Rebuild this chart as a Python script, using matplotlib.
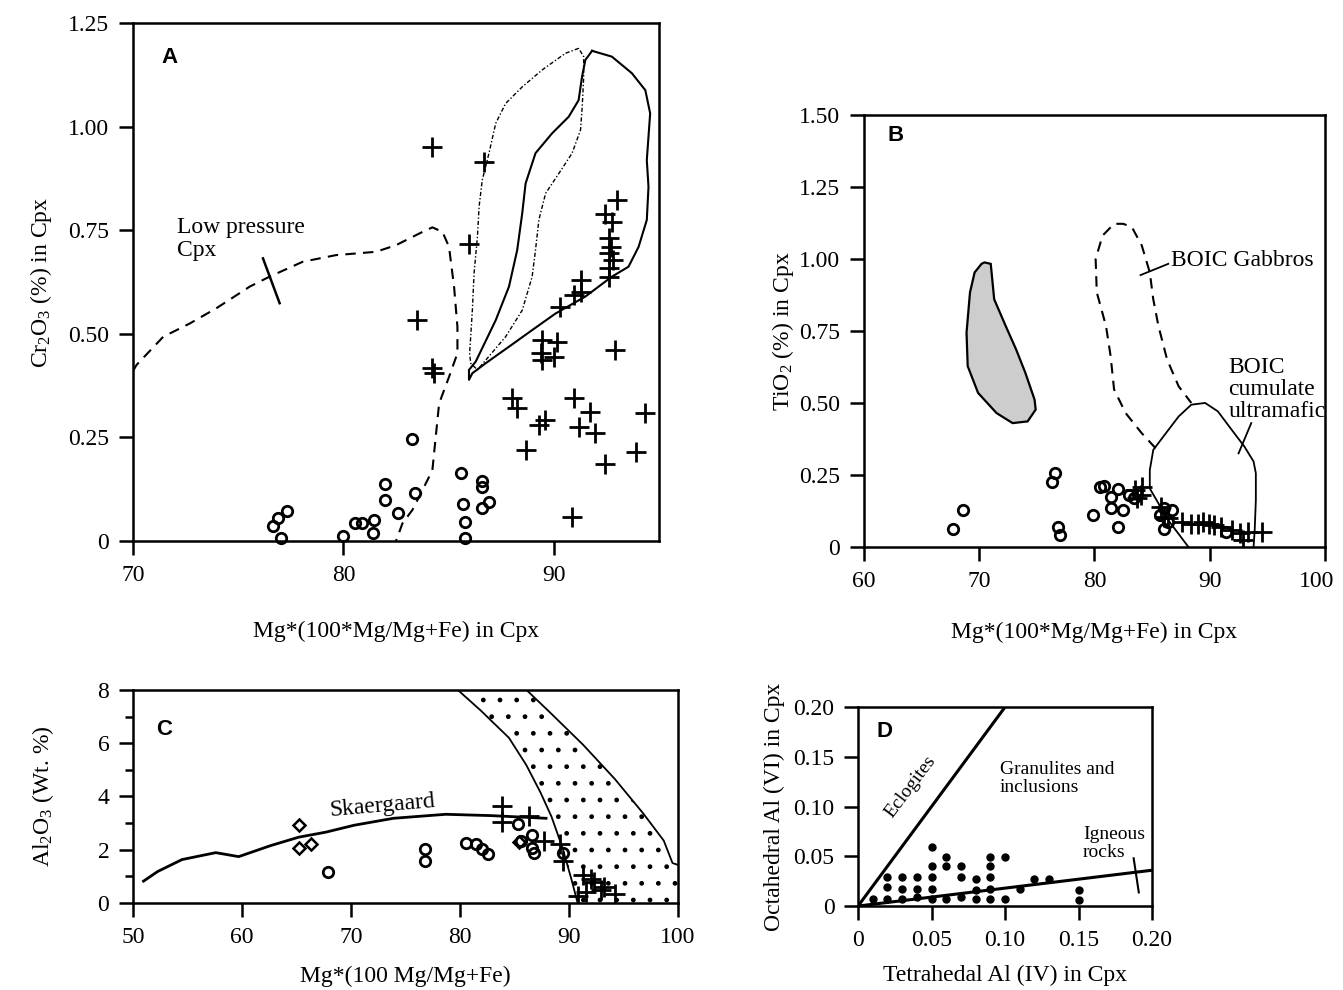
import matplotlib
matplotlib.use('Agg')
import matplotlib.pyplot as plt
from matplotlib.patches import Polygon
from matplotlib.transforms import ScaledTranslation

plt.rcParams['font.family'] = ['Liberation Serif', 'DejaVu Serif']
plt.rcParams['mathtext.fontset'] = 'custom'
plt.rcParams['mathtext.rm'] = 'Liberation Serif'
plt.rcParams['mathtext.it'] = 'Liberation Serif:italic'
plt.rcParams['hatch.linewidth'] = 1.0

# ---------------- Panel A data ----------------
a_circ_x = [77.05, 76.65, 76.9, 77.3, 80.0, 80.55, 80.9, 81.45, 81.4, 82.0, 82.0, 82.6, 83.4, 83.24,
            85.6, 85.7, 85.8, 85.8, 86.6, 86.6, 86.9, 86.6]
a_circ_y = [0.007, 0.036, 0.055, 0.072, 0.012, 0.043, 0.043, 0.05, 0.02, 0.137, 0.10, 0.067, 0.117, 0.246,
            0.165, 0.09, 0.045, 0.008, 0.145, 0.13, 0.095, 0.08]
a_plus_x = [84.23, 86.68, 85.97, 83.5, 84.23, 84.3, 88.0, 88.25, 89.3, 89.6, 88.7, 90.95, 91.7, 91.2, 91.97,
            92.45, 93.9, 94.35, 90.87, 92.9, 93.0, 92.45, 92.77, 92.6, 92.7, 92.6, 92.8, 92.6, 92.6,
            91.27, 90.95, 91.3, 90.3, 89.45, 90.16, 89.37, 90.0, 89.45]
a_plus_y = [0.951, 0.915, 0.717, 0.533, 0.417, 0.405, 0.344, 0.32, 0.28, 0.292, 0.22, 0.344, 0.312, 0.276, 0.26,
            0.187, 0.215, 0.308, 0.059, 0.46, 0.823, 0.79, 0.77, 0.731, 0.71, 0.695, 0.678, 0.659, 0.638,
            0.63, 0.594, 0.602, 0.565, 0.485, 0.481, 0.453, 0.445, 0.437]
lowp_x = [70.0, 70.17, 71.44, 72.70, 73.97, 75.55, 76.49, 78.07, 79.65, 81.55, 82.50, 83.76, 84.23, 84.71,
          85.02, 85.26, 85.42, 85.42, 85.02, 84.55, 84.39, 84.23, 83.76, 83.28, 82.81, 82.50]
lowp_y = [0.41, 0.425, 0.493, 0.525, 0.562, 0.614, 0.638, 0.674, 0.690, 0.698, 0.714, 0.746, 0.757, 0.746,
          0.710, 0.614, 0.517, 0.453, 0.396, 0.332, 0.252, 0.171, 0.123, 0.075, 0.043, 0.0]
lowp_tick_x = [76.18, 76.97]
lowp_tick_y = [0.682, 0.574]
solidA_x = [91.82, 92.76, 93.71, 94.35, 94.58, 94.50, 94.42, 94.50, 94.42, 94.03, 93.55, 92.76, 91.50, 90.08,
            88.97, 87.87, 86.76, 86.13, 85.97, 85.97, 86.29, 87.24, 87.87, 88.26, 88.50, 88.66, 89.13, 89.92,
            90.71, 91.18, 91.34, 91.50, 91.82]
solidA_y = [1.183, 1.169, 1.129, 1.088, 1.032, 0.976, 0.919, 0.855, 0.775, 0.710, 0.662, 0.638, 0.590, 0.549,
            0.509, 0.469, 0.429, 0.405, 0.389, 0.413, 0.433, 0.533, 0.614, 0.702, 0.791, 0.863, 0.936, 0.984,
            1.024, 1.064, 1.120, 1.161, 1.183]
dotA_x = [91.18, 90.55, 89.45, 88.50, 87.71, 87.24, 86.92, 86.60, 86.45, 86.37, 86.21, 86.13, 86.05, 86.00,
          86.05, 86.37, 87.71, 88.50, 88.97, 89.13, 89.29, 89.61, 90.24, 90.87, 91.27, 91.35, 91.42, 91.42, 91.18]
dotA_y = [1.189, 1.177, 1.137, 1.096, 1.056, 1.008, 0.936, 0.871, 0.807, 0.734, 0.646, 0.557, 0.493, 0.453,
          0.429, 0.413, 0.493, 0.557, 0.638, 0.702, 0.775, 0.839, 0.887, 0.936, 0.992, 1.048, 1.120, 1.169, 1.189]
a_xticks = [70, 80, 90]
a_yticks = [0, 0.25, 0.50, 0.75, 1.00, 1.25]
a_yticklabels = ['0', '0.25', '0.50', '0.75', '1.00', '1.25']

# ---------------- Panel B data ----------------
b_circ_x = [67.7, 68.6, 76.3, 76.6, 76.8, 77.0, 79.9, 80.5, 80.8, 81.4, 82.0, 81.4, 82.5, 82.0, 83.0, 83.4,
            85.7, 86.0, 86.7, 86.0, 86.4, 91.45]
b_circ_y = [0.064, 0.128, 0.227, 0.256, 0.07, 0.041, 0.11, 0.209, 0.212, 0.174, 0.203, 0.134, 0.128, 0.07,
            0.18, 0.169, 0.11, 0.134, 0.128, 0.064, 0.087, 0.052]
b_plus_x = [83.5, 84.0, 83.7, 84.1, 85.8, 86.0, 86.4, 87.6, 88.4, 89.0, 89.4, 89.9, 90.4, 91.0, 91.9, 92.6,
            92.9, 93.3, 94.5]
b_plus_y = [0.198, 0.18, 0.169, 0.209, 0.14, 0.105, 0.099, 0.087, 0.081, 0.081, 0.087, 0.081, 0.076, 0.07,
            0.058, 0.047, 0.023, 0.052, 0.052]
stipB_x = [70.45, 71.0, 71.3, 72.3, 73.2, 74.0, 74.8, 74.9, 74.2, 72.9, 71.5, 69.9, 69.0, 68.9, 69.2, 69.6, 70.2]
stipB_y = [0.988, 0.983, 0.86, 0.767, 0.686, 0.605, 0.512, 0.477, 0.436, 0.43, 0.465, 0.535, 0.628, 0.744,
           0.884, 0.953, 0.983]
gabB_x = [85.3, 84.1, 82.7, 81.7, 81.4, 81.0, 80.2, 80.1, 80.7, 81.7, 82.5, 83.25, 84.1, 84.8, 85.1, 85.55,
          86.3, 87.3, 88.4]
gabB_y = [0.343, 0.395, 0.465, 0.547, 0.663, 0.767, 0.884, 1.0, 1.081, 1.122, 1.122, 1.11, 1.047, 0.953, 0.86,
          0.767, 0.651, 0.558, 0.5]
cumB_x = [88.15, 86.4, 84.8, 84.8, 85.1, 86.1, 87.3, 88.4, 89.6, 90.7, 91.9, 93.0, 93.8, 94.0, 94.0, 93.9, 93.8]
cumB_y = [0.0, 0.093, 0.203, 0.267, 0.337, 0.39, 0.453, 0.494, 0.5, 0.471, 0.407, 0.349, 0.297, 0.256, 0.163,
          0.058, 0.0]
b_gab_tick_x = [84.0, 86.4]
b_gab_tick_y = [0.944, 0.983]
b_cum_tick_x = [92.5, 93.6]
b_cum_tick_y = [0.325, 0.43]
b_xticks = [60, 70, 80, 90, 100]
b_yticks = [0, 0.25, 0.50, 0.75, 1.00, 1.25, 1.50]
b_yticklabels = ['0', '0.25', '0.50', '0.75', '1.00', '1.25', '1.50']

# ---------------- Panel C data ----------------
c_dia_x = [65.2, 65.2, 66.3, 85.4]
c_dia_y = [2.92, 2.08, 2.21, 2.3]
c_circ_x = [67.9, 76.8, 76.8, 80.6, 81.5, 82.0, 82.6, 85.3, 86.6, 85.6, 86.6, 86.8, 89.5]
c_circ_y = [1.16, 2.02, 1.57, 2.25, 2.21, 2.02, 1.83, 2.98, 2.57, 2.34, 2.08, 1.89, 1.89]
c_plus_x = [83.9, 83.9, 86.3, 87.7, 89.2, 89.5, 91.3, 92.3, 91.6, 92.9, 94.2, 90.8, 92.0, 93.2]
c_plus_y = [3.63, 3.05, 3.26, 2.34, 2.21, 1.57, 1.05, 0.80, 0.41, 0.48, 0.35, 0.28, 0.9, 0.6]
skaer_x = [50.97, 52.26, 54.5, 57.6, 59.7, 62.6, 65.2, 67.7, 70.3, 73.9, 78.7, 82.9, 87.9]
skaer_y = [0.82, 1.18, 1.63, 1.89, 1.74, 2.15, 2.47, 2.66, 2.92, 3.18, 3.33, 3.28, 3.18]
cleft_x = [79.8, 81.9, 84.5, 86.1, 87.4, 88.4, 89.4, 90.2, 90.8]
cleft_y = [8.0, 7.23, 6.2, 5.17, 4.14, 3.24, 2.08, 0.93, 0.0]
cright_x = [86.1, 88.4, 91.3, 94.2, 96.8, 98.7, 99.5, 100.0]
cright_y = [8.0, 7.1, 5.94, 4.66, 3.37, 2.34, 1.5, 1.43]
c_xticks = [50, 60, 70, 80, 90, 100]
c_yticks = [0, 2, 4, 6, 8]
c_yminor = [1, 3, 5, 7]

# ---------------- Panel D data ----------------
d_x = [0.01,
       0.02, 0.02, 0.02,
       0.03, 0.03, 0.03,
       0.04, 0.04, 0.04,
       0.05, 0.05, 0.05, 0.05, 0.05,
       0.06, 0.06, 0.06,
       0.07, 0.07, 0.07,
       0.08, 0.08, 0.08,
       0.09, 0.09, 0.09, 0.09, 0.09,
       0.10, 0.10,
       0.11, 0.12, 0.13,
       0.15, 0.15]
d_y = [0.007,
       0.029, 0.019, 0.007,
       0.029, 0.017, 0.007,
       0.029, 0.017, 0.009,
       0.059, 0.040, 0.029, 0.017, 0.007,
       0.049, 0.040, 0.007,
       0.040, 0.029, 0.009,
       0.027, 0.016, 0.007,
       0.049, 0.040, 0.029, 0.017, 0.007,
       0.049, 0.007,
       0.017, 0.027, 0.027,
       0.016, 0.006]
eclog_x = [0.0, 0.1]
eclog_y = [0.0, 0.2]
ign_x = [0.0, 0.2]
ign_y = [0.0, 0.036]
ign_tick_x = [0.1875, 0.191]
ign_tick_y = [0.048, 0.0137]
d_ticks = [0, 0.05, 0.10, 0.15, 0.20]
d_ticklabels = ['0', '0.05', '0.10', '0.15', '0.20']

FS = 17
LW_SP = 1.8

fig = plt.figure(figsize=(13.43, 9.9), dpi=100)


def style(ax):
    for s in ax.spines.values():
        s.set_linewidth(LW_SP)
    ax.tick_params(direction='out', length=10, width=LW_SP, labelsize=FS, pad=7)


def letter(ax, x, y, s):
    ax.text(x, y, s, family=['Liberation Sans', 'DejaVu Sans'], fontweight='bold', fontsize=16,
            ha='center', va='center')


plus_kw = dict(marker='+', linestyle='none', color='black', markersize=14, markeredgewidth=2.0)
circ_kw = dict(marker='o', linestyle='none', markerfacecolor='none', markeredgecolor='black',
               markersize=7.5, markeredgewidth=2.0)

# ---------------- Panel A ----------------
axA = fig.add_axes([0.099, 0.4535, 0.3917, 0.5232])
style(axA)
axA.set_xlim(70, 95)
axA.set_ylim(0, 1.25)
axA.set_xticks(a_xticks)
axA.set_yticks(a_yticks)
axA.set_yticklabels(a_yticklabels)
axA.plot(lowp_x, lowp_y, color='black', lw=1.5, dashes=(5, 3.5))
axA.plot(lowp_tick_x, lowp_tick_y, color='black', lw=1.8)
axA.plot(solidA_x, solidA_y, color='black', lw=1.5)
axA.plot(dotA_x, dotA_y, color='black', lw=1.0, linestyle=(0, (3, 1.5, 1, 1.5)))
axA.plot(a_circ_x, a_circ_y, **circ_kw, clip_on=False)
axA.plot(a_plus_x, a_plus_y, **plus_kw)
axA.text(72.1, 0.729, 'Low pressure\nCpx', fontsize=FS, ha='left', va='center', linespacing=1.15)
letter(axA, 71.75, 1.168, 'A')
axA.set_xlabel('Mg*(100*Mg/Mg+Fe) in Cpx', fontsize=FS, labelpad=25)
axA.set_ylabel(r'Cr$_2$O$_3$ (%) in Cpx', fontsize=FS, labelpad=10)

# ---------------- Panel B ----------------
axB = fig.add_axes([0.6433, 0.4475, 0.3433, 0.4364])
style(axB)
axB.set_xlim(60, 100)
axB.set_ylim(0, 1.5)
axB.set_xticks(b_xticks)
axB.set_yticks(b_yticks)
axB.set_yticklabels(b_yticklabels)
axB.add_patch(Polygon(list(zip(stipB_x, stipB_y)), closed=True, facecolor='#cdcdcd',
                      edgecolor='black', lw=1.6))
axB.plot(gabB_x, gabB_y, color='black', lw=1.5, dashes=(5, 3.5))
axB.plot(cumB_x, cumB_y, color='black', lw=1.3)
axB.plot(b_gab_tick_x, b_gab_tick_y, color='black', lw=1.3)
axB.plot(b_cum_tick_x, b_cum_tick_y, color='black', lw=1.3)
axB.plot(b_circ_x, b_circ_y, **circ_kw)
axB.plot(b_plus_x, b_plus_y, **plus_kw)
axB.text(86.6, 0.994, 'BOIC Gabbros', fontsize=FS, ha='left', va='center')
axB.text(91.6, 0.547, 'BOIC\ncumulate\nultramafic', fontsize=FS, ha='left', va='center', linespacing=1.05)
letter(axB, 62.7, 1.43, 'B')
axB.set_xlabel('Mg*(100*Mg/Mg+Fe) in Cpx', fontsize=FS, labelpad=22)
axB.set_ylabel(r'TiO$_2$ (%) in Cpx', fontsize=FS, labelpad=2)
lastlab = axB.get_xticklabels()[-1]
lastlab.set_transform(lastlab.get_transform() + ScaledTranslation(-6 / 72, 0, fig.dpi_scale_trans))

# ---------------- Panel C ----------------
axC = fig.add_axes([0.099, 0.0879, 0.4058, 0.2152])
style(axC)
axC.set_xlim(50, 100)
axC.set_ylim(0, 8)
axC.set_xticks(c_xticks)
axC.set_yticks(c_yticks)
axC.set_yticks(c_yminor, minor=True)
axC.tick_params(which='minor', direction='out', length=6, width=LW_SP)
band = list(zip(cleft_x, cleft_y)) + [(100, 0)] + list(zip(cright_x[::-1], cright_y[::-1]))
axC.add_patch(Polygon(band, closed=True, facecolor='none', edgecolor='black', lw=0, hatch='.'))
axC.plot(cleft_x, cleft_y, color='black', lw=1.3)
axC.plot(cright_x, cright_y, color='black', lw=1.3)
axC.plot(skaer_x, skaer_y, color='black', lw=2.0)
axC.plot(c_dia_x, c_dia_y, marker='D', linestyle='none', markerfacecolor='none', markeredgecolor='black',
         markersize=6.5, markeredgewidth=1.8)
axC.plot(c_circ_x, c_circ_y, **circ_kw)
axC.plot(c_plus_x, c_plus_y, **plus_kw)
axC.text(72.9, 3.63, 'Skaergaard', fontsize=FS, ha='center', va='center', rotation=5)
letter(axC, 52.9, 6.52, 'C')
axC.set_xlabel('Mg*(100 Mg/Mg+Fe)', fontsize=FS, labelpad=13)
axC.set_ylabel(r'Al$_2$O$_3$ (Wt. %)', fontsize=FS, labelpad=30)

# ---------------- Panel D ----------------
axD = fig.add_axes([0.6389, 0.0848, 0.2189, 0.201])
style(axD)
axD.set_xlim(0, 0.2)
axD.set_ylim(0, 0.2)
axD.set_xticks(d_ticks)
axD.set_xticklabels(d_ticklabels)
axD.set_yticks(d_ticks)
axD.set_yticklabels(d_ticklabels)
axD.plot(eclog_x, eclog_y, color='black', lw=2.2)
axD.plot(ign_x, ign_y, color='black', lw=2.2)
axD.plot(ign_tick_x, ign_tick_y, color='black', lw=1.5)
axD.plot(d_x, d_y, marker='o', linestyle='none', color='black', markersize=5)
axD.text(0.036, 0.12, 'Eclogites', fontsize=14, ha='center', va='center', rotation=53)
axD.text(0.0966, 0.128, 'Granulites and\ninclusions', fontsize=14, ha='left', va='center', linespacing=1.1)
axD.text(0.153, 0.063, 'Igneous\nrocks', fontsize=14, ha='left', va='center', linespacing=1.1)
letter(axD, 0.018, 0.175, 'D')
axD.set_xlabel('Tetrahedal Al (IV) in Cpx', fontsize=FS, labelpad=10)
axD.set_ylabel('Octahedral Al (VI) in Cpx', fontsize=FS, labelpad=6)

fig.savefig('out.png', dpi=100)
